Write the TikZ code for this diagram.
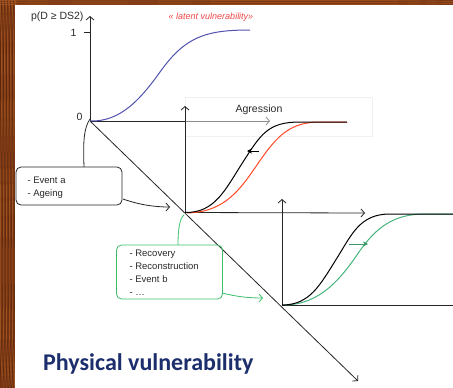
\documentclass[tikz,border=0pt]{standalone}
\usepackage{fontspec}
\setmainfont{Liberation Sans}
\newfontfamily\titlefont{Carlito}
\usetikzlibrary{arrows.meta}
\definecolor{wood}{HTML}{7A3512}
\definecolor{woodlight}{HTML}{B4642A}
\definecolor{wooddark}{HTML}{4A1E0A}
\definecolor{curveblue}{HTML}{5252B0}
\definecolor{curvered}{HTML}{FF4A26}
\definecolor{curvegreen}{HTML}{46B47C}
\definecolor{boxgreen}{HTML}{3CBF6A}
\definecolor{titleblue}{HTML}{1C2E6C}
\definecolor{txtgray}{HTML}{2A2A2A}
\definecolor{latentred}{HTML}{F04848}
\tikzset{
  axis/.style={draw=black!85, line width=0.8pt},
  axisarrow/.style={axis, -{Straight Barb[length=3.5pt,width=8pt]}},
  curve/.style={line width=1pt},
  textbox/.style={draw, rounded corners=5pt, line width=0.8pt, minimum width=106pt, inner sep=0pt},
  boxtext/.style={font=\fontsize{9.5}{13}\selectfont, text=txtgray, align=left},
  conn/.style={line width=0.8pt},
  connarrow/.style={conn, -{Straight Barb[length=3.5pt,width=8pt]}},
}
\begin{document}
\begin{tikzpicture}[x=1pt,y=-1pt]
\useasboundingbox (0,0) rectangle (453,388);
% wood background
\fill[wood] (0,0) rectangle (453,388);
\begin{scope}
\clip (0,0) rectangle (453,388);
\foreach \i in {0,3,...,15} {
  \draw[woodlight, line width=1.2pt, opacity=0.6] (\i,0) .. controls (\i+6,120) and (\i-5,260) .. (\i+3,388);
}
\foreach \i in {1.5,4.5,...,15} {
  \draw[wooddark, line width=0.8pt, opacity=0.6] (\i,0) .. controls (\i-4,130) and (\i+6,250) .. (\i-2,388);
}
\foreach \j in {0.5,2.5,4.5} {
  \draw[woodlight, line width=0.9pt, opacity=0.5] (0,\j) .. controls (150,\j+2) and (300,\j-2) .. (453,\j+1);
}
\end{scope}
\fill[white] (15,5) rectangle (453,388);

% light gray box behind Agression
\draw[black!6, line width=0.5pt] (185,97) rectangle (372,136);

% main axes
\coordinate (O) at (90,121);
\coordinate (Ytop) at (90,16);
\coordinate (O2) at (185,212.5);
\coordinate (O3) at (282,305);
\coordinate (Dend) at (358,381);
\draw[axisarrow] (O) -- (Ytop);
\draw[axis] (84,32) -- (90,32);
\draw[axis] (O) -- (185,121);
\draw[black!45, line width=0.8pt, -{Straight Barb[length=3.5pt,width=8pt]}] (185,121) -- (270,121);
\draw[axisarrow] (O) -- (Dend);

\node[font=\fontsize{10.5}{12}\selectfont, text=txtgray, anchor=east] (ylab) at (87,17) {p(D ≥ DS2)};
\node[font=\fontsize{10.5}{12}\selectfont, text=txtgray, anchor=east] (one) at (80,33) {1};
\node[font=\fontsize{10.5}{12}\selectfont, text=txtgray, anchor=east] (zero) at (86,117) {0};
\node[font=\itshape\fontsize{9}{10}\selectfont, text=latentred] (latent) at (211,17) {« latent vulnerability»};
\node[font=\fontsize{10.5}{12}\selectfont, text=txtgray] (agr) at (259,110) {Agression};

% blue latent curve
\draw[curveblue, curve] (O) .. controls (120,122) and (140,100) .. (160,72)
  .. controls (185,37) and (205,30) .. (250,30);

% second axes
\draw[axisarrow] (O2) -- (185,106);
\draw[axisarrow] (O2) -- (365,213);
\draw[curvered, curve] (187,213) .. controls (225,212) and (240,190) .. (259,162)
  .. controls (277,136) and (290,122) .. (320,122) -- (347,122);
\draw[black, curve] (O2) .. controls (215,213) and (225,190) .. (243,162)
  .. controls (261,134) and (268,122) .. (300,122) -- (347,122);
\draw[black, line width=0.9pt, -{Stealth[length=5pt,width=5pt]}] (259,151) -- (247,151);

% third axes
\draw[axisarrow] (O3) -- (282,199);
\draw[axis] (O3) -- (453,305);
\draw[curvegreen, curve] (285,305) .. controls (320,304) and (340,280) .. (359,252)
  .. controls (377,226) and (395,214) .. (425,214) -- (453,214);
\draw[black, curve] (O3) .. controls (310,305) and (320,285) .. (337,258)
  .. controls (352,234) and (360,214) .. (390,214) -- (453,214);
\draw[curvegreen!85!black, line width=0.9pt, -{Stealth[length=5pt,width=5pt]}] (349,244) -- (368,244);

% boxes
\node[textbox, draw=black!85, minimum height=38pt] (ev) at (69,186) {};
\node[boxtext, anchor=north west] (evt) at (24,173) {- Event a\\- Ageing};
\node[textbox, draw=boxgreen, minimum height=54pt] (rec) at (169.5,272) {};
\node[boxtext, anchor=north west] (rect) at (126,246) {- Recovery\\- Reconstruction\\- Event b\\- …};

% connectors
\coordinate (evtop) at (84,167);
\coordinate (evright) at (123,199);
\coordinate (evtip) at (170,207);
\draw[conn, black!85] (evtop) .. controls (83,140) and (84,128) .. ([yshift=2pt]O);
\draw[connarrow, black!85] (evright) .. controls (140,205) and (155,207) .. (evtip);
\coordinate (rectop) at (178,245);
\coordinate (recright) at (222,293);
\coordinate (rectip) at (263,298);
\coordinate (o2low) at (184,215);
\draw[conn, boxgreen] (rectop) .. controls (178,228) and (180,218) .. (o2low);
\draw[connarrow, boxgreen] (recright) .. controls (238,297) and (250,298) .. (rectip);

% title
\node[font=\titlefont\bfseries\fontsize{24}{27}\selectfont, text=titleblue, anchor=base west, inner sep=0pt] (title) at (43,370) {Physical vulnerability};
\end{tikzpicture}
\end{document}
